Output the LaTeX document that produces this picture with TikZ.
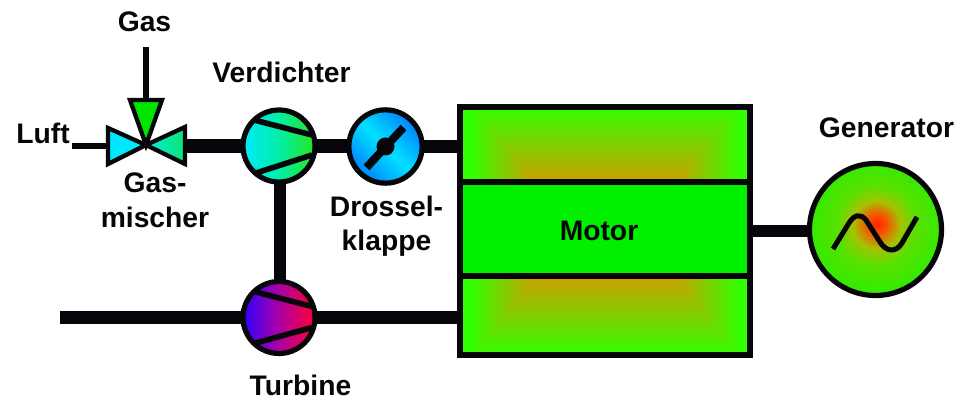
\documentclass[tikz,border=0pt]{standalone}
\usepackage{fontspec}
\setmainfont{Liberation Sans}
\usetikzlibrary{calc}
\definecolor{ink}{RGB}{6,6,10}
\definecolor{mgreen}{RGB}{0,240,0}
\pgfdeclarefunctionalshading{glowtop}{\pgfpoint{0bp}{0bp}}{\pgfpoint{100bp}{100bp}}{}{
 exch 50 sub abs 12 sub 11 div exch 25 sub 50 div 2 copy lt {exch} if pop
 dup 0 lt {pop 0} if dup 1 gt {pop 1} if 1 exch sub
 dup 0.6 mul 0.2 add exch 0.38 mul neg 1 add 0 }
\pgfdeclarefunctionalshading{glowbot}{\pgfpoint{0bp}{0bp}}{\pgfpoint{100bp}{100bp}}{}{
 100 exch sub exch 50 sub abs 12 sub 11 div exch 25 sub 50 div 2 copy lt {exch} if pop
 dup 0 lt {pop 0} if dup 1 gt {pop 1} if 1 exch sub
 dup 0.6 mul 0.2 add exch 0.38 mul neg 1 add 0 }
\pgfdeclareradialshading{genglow}{\pgfpoint{0.5bp}{2.2bp}}{
 rgb(0bp)=(1,0.14,0);
 rgb(3.5bp)=(0.98,0.31,0);
 rgb(9bp)=(0.65,0.76,0);
 rgb(15bp)=(0.35,0.88,0);
 rgb(25bp)=(0.2,0.92,0);
 rgb(50bp)=(0.2,0.92,0)}
\tikzset{
 x=0.75pt,y=-0.75pt,
 label text/.style={font=\bfseries\fontsize{21.2pt}{24pt}\selectfont,text=ink,anchor=base,inner sep=0pt},
 disc/.style={circle,draw=ink,line width=3.9pt,inner sep=0pt,outer sep=0pt,minimum size=54pt},
 pipe/.style={draw=ink,line width=10pt},
 thin pipe/.style={draw=ink,line width=5pt},
 vane/.style={draw=ink,line width=4.2pt},
 tri/.style={draw=ink,line width=3.2pt,line join=miter},
 panel/.style={rectangle,draw=ink,line width=4.4pt,inner sep=0pt,outer sep=0pt,minimum width=217.5pt},
}
\begin{document}
\begin{tikzpicture}
\useasboundingbox (0,0) rectangle (958,399);
% labels
\node[label text] (lgas) at (144.5,32) {Gas};
\node[label text] (lverd) at (281.5,83) {Verdichter};
\node[label text] (lluft) at (43,144) {Luft};
\node[label text] (lmix1) at (155,193) {Gas-};
\node[label text] (lmix2) at (155,228) {mischer};
\node[label text] (ldr1) at (386.5,217) {Drossel-};
\node[label text] (ldr2) at (386.5,251) {klappe};
\node[label text] (lturb) at (300.5,395) {Turbine};
\node[label text] (lgen) at (886.5,138) {Generator};
% free pipe ends
\coordinate (gasin) at (146,47);
\coordinate (luftin) at (72,146);
\coordinate (exhaust) at (60,317.5);
\coordinate (mix) at (146,145);
% valve
\coordinate (vt) at (146,100);
\coordinate (vl) at (108,146);
\coordinate (vr) at (185,146);
\draw[tri,fill={rgb,255:red,0;green,228;blue,0}] (mix) -- (130,100) -- (162,100) -- cycle;
\draw[tri,fill={rgb,255:red,0;green,232;blue,255}] (mix) -- (108,128) -- (108,164) -- cycle;
\draw[tri,left color={rgb,255:red,0;green,240;blue,225},right color={rgb,255:red,15;green,225;blue,110}] (mix) -- (185,127) -- (185,164) -- cycle;
% machines
\node[disc,left color={rgb,255:red,0;green,235;blue,255},right color={rgb,255:red,40;green,230;blue,30},middle color={rgb,255:red,0;green,238;blue,165}] (verd) at (279,146) {};
\node[disc,left color={rgb,255:red,45;green,0;blue,255},right color={rgb,255:red,255;green,0;blue,50},middle color={rgb,255:red,172;green,0;blue,165}] (turb) at (279,317.5) {};
\node[disc,minimum size=55pt,top color={rgb,255:red,0;green,130;blue,255},bottom color={rgb,255:red,0;green,130;blue,255},middle color={rgb,255:red,0;green,225;blue,255},shading angle=-45] (dross) at (385.5,146.5) {};
\node[disc,minimum size=99pt,shading=genglow,shade] (gen) at (875.5,229.5) {};
% motor
\node[panel,minimum height=56.25pt,shading=glowtop,shade] (mtop) at (605,144.5) {};
\node[panel,minimum height=70.5pt,fill=mgreen] (mmid) at (605,229) {};
\node[panel,minimum height=59.25pt,shading=glowbot,shade] (mbot) at (605,315.5) {};
\node[label text] (lmotor) at (599,241) {Motor};
% vanes
\draw[vane] (verd.center)+(-25,-26) -- +(33,-11);
\draw[vane] (verd.center)+(-23,27) -- +(33,9);
\draw[vane] (turb.center)+(-25,-26) -- +(33,-11);
\draw[vane] (turb.center)+(-25,26) -- +(33,10);
% throttle flap
\coordinate (flapa) at ($(dross.center)+(-19,21)$);
\coordinate (flapb) at ($(dross.center)+(18,-19)$);
\draw[draw=ink,line width=6pt] (flapa) -- (flapb);
\fill[ink] (dross.center) circle[radius=9];
% sine
\draw[draw=ink,line width=3.8pt,line join=round]
 (833,249) -- (849,223) .. controls (854,215) and (860,213) .. (866,220)
 -- (880,242) .. controls (886,252) and (896,253) .. (902,243) -- (917,217);
% connectors
\draw[thin pipe] (gasin) -- (vt);
\draw[thin pipe] (luftin) -- (vl);
\draw[pipe] (vr) -- (verd.west);
\draw[pipe] (verd.east) -- (dross.west |- verd.east);
\draw[pipe] (dross.east) -- (mtop.west |- dross.east);
\draw[pipe,line width=8.5pt] ($(verd.south)+(1,0)$) -- ($(turb.north)+(1,0)$);
\draw[pipe] (exhaust) -- (turb.west);
\draw[pipe] (turb.east) -- (mbot.west |- turb.east);
\draw[pipe,line width=9pt] ($(mmid.east |- gen.west)+(0,1.5)$) -- ($(gen.west)+(0,1.5)$);
\end{tikzpicture}
\end{document}
